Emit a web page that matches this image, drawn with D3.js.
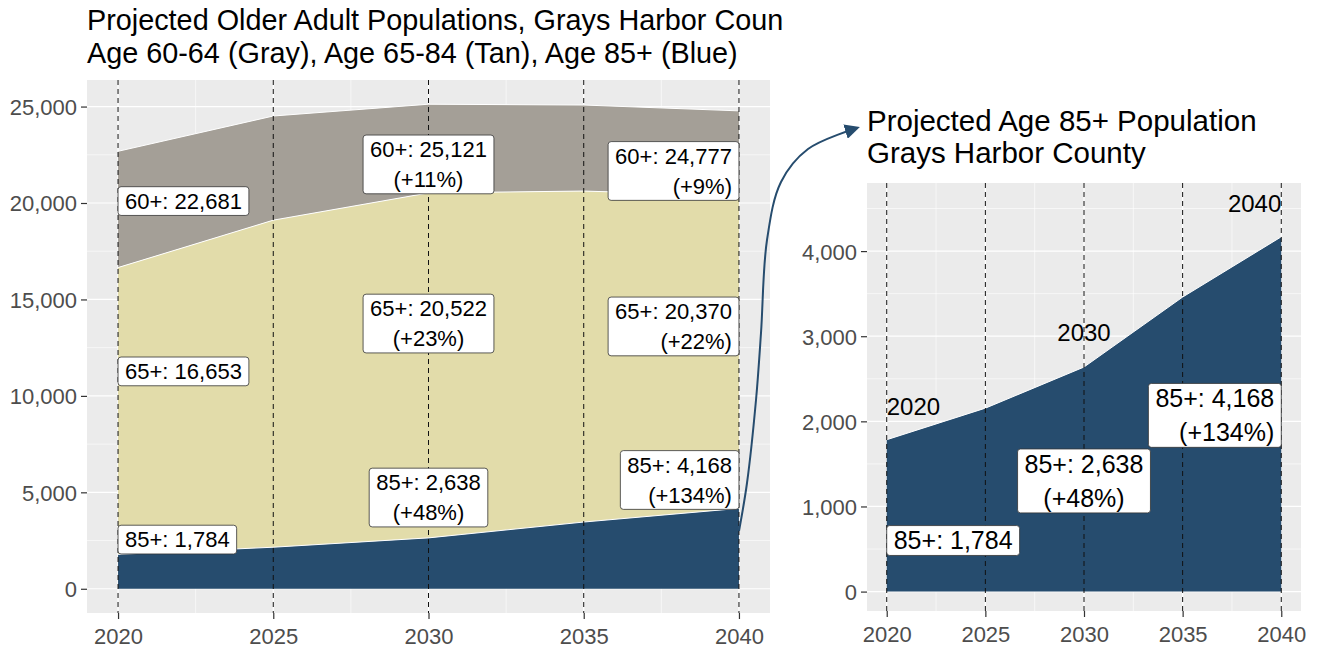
<!DOCTYPE html>
<html>
<head>
<meta charset="utf-8">
<script src="https://cdn.jsdelivr.net/npm/d3@7"></script>
<style>
  body { margin: 0; background: #fff; }
  svg { display: block; font-family: "Liberation Sans", Arial, sans-serif; }
</style>
</head>
<body>
<div id="chart"></div>
<script>
// values
var years = [2020, 2025, 2030, 2035, 2040];
var pop60plus = [22681, 24510, 25121, 25080, 24777];
var pop65plus = [16653, 19110, 20522, 20620, 20370];
var pop85plus = [1784, 2155, 2638, 3460, 4168];

var leftYTicks = [0, 5000, 10000, 15000, 20000, 25000];
var rightYTicks = [0, 1000, 2000, 3000, 4000];

// label text and where the labels sit (year, value, horizontal justification)
var leftLabels = [
  { year: 2020, y: 20100, hjust: 0,   lines: ["60+: 22,681"] },
  { year: 2030, y: 22000, hjust: 0.5, lines: ["60+: 25,121", "(+11%)"] },
  { year: 2040, y: 21660, hjust: 1,   lines: ["60+: 24,777", "(+9%)"] },
  { year: 2020, y: 11270, hjust: 0,   lines: ["65+: 16,653"] },
  { year: 2030, y: 13750, hjust: 0.5, lines: ["65+: 20,522", "(+23%)"] },
  { year: 2040, y: 13600, hjust: 1,   lines: ["65+: 20,370", "(+22%)"] },
  { year: 2020, y: 2550,  hjust: 0,   lines: ["85+: 1,784"] },
  { year: 2030, y: 4730,  hjust: 0.5, lines: ["85+: 2,638", "(+48%)"] },
  { year: 2040, y: 5640,  hjust: 1,   lines: ["85+: 4,168", "(+134%)"] }
];
var rightLabels = [
  { year: 2020, y: 600,  hjust: 0,   lines: ["85+: 1,784"] },
  { year: 2030, y: 1300, hjust: 0.5, lines: ["85+: 2,638", "(+48%)"] },
  { year: 2040, y: 2070, hjust: 1,   lines: ["85+: 4,168", "(+134%)"] }
];
var rightYearText = [
  { year: 2020, y: 2180, hjust: 0 },
  { year: 2030, y: 3050, hjust: 0.5 },
  { year: 2040, y: 4560, hjust: 1 }
];

// path of the annotation arrow (screen points, it is not data)
var arrowPts = [[739, 531], [747, 483], [756, 400], [761, 333], [767, 240], [781, 182], [808, 149], [857, 128]];

var W = 1317, H = 649;
var svg = d3.select("#chart").append("svg").attr("width", W).attr("height", H);

var blue = "#264c6e", tan = "#e2dcaa", gray = "#a49f97";

function anchorOf(h) { return h === 0 ? "start" : (h === 1 ? "end" : "middle"); }

function drawLabel(g, x, y, lines, hjust, fs, lineH, padX, padY) {
  var capH = fs * 0.716;
  var boxH = capH + (lines.length - 1) * lineH + 2 * padY;
  var grp = g.append("g");
  var rect = grp.append("rect");
  var texts = [];
  lines.forEach(function(l) {
    texts.push(grp.append("text").attr("font-size", fs).attr("fill", "#000").text(l));
  });
  var tw = d3.max(texts, function(t) { return t.node().getComputedTextLength(); });
  var boxW = tw + 2 * padX;
  var left = x - hjust * boxW;
  var top = y - boxH / 2;
  rect.attr("x", left).attr("y", top).attr("width", boxW).attr("height", boxH)
      .attr("rx", 3).attr("fill", "#fff").attr("stroke", "#333").attr("stroke-width", 0.8);
  var tx = left + padX + hjust * tw;
  texts.forEach(function(t, i) {
    t.attr("x", tx).attr("y", top + padY + capH + i * lineH).attr("text-anchor", anchorOf(hjust));
  });
}

function drawPanel(opt) {
  var x = d3.scaleLinear().domain([2019, 2041]).range([opt.left, opt.right]);
  var y = d3.scaleLinear().domain(opt.yDomain).range([opt.bottom, opt.top]);
  var g = svg.append("g");

  g.append("rect").attr("x", opt.left).attr("y", opt.top)
    .attr("width", opt.right - opt.left).attr("height", opt.bottom - opt.top).attr("fill", "#ebebeb");

  // minor grid
  var step = opt.yTicks[1] - opt.yTicks[0];
  var minorY = d3.range(opt.yTicks[0] + step / 2, opt.yDomain[1], step);
  g.selectAll(null).data(minorY).join("line")
    .attr("x1", opt.left).attr("x2", opt.right).attr("y1", d => y(d)).attr("y2", d => y(d))
    .attr("stroke", "#fff").attr("stroke-width", 0.6);
  var minorX = years.slice(0, -1).map(d => d + 2.5);
  g.selectAll(null).data(minorX).join("line")
    .attr("y1", opt.top).attr("y2", opt.bottom).attr("x1", d => x(d)).attr("x2", d => x(d))
    .attr("stroke", "#fff").attr("stroke-width", 0.6);
  // major grid
  g.selectAll(null).data(opt.yTicks).join("line")
    .attr("x1", opt.left).attr("x2", opt.right).attr("y1", d => y(d)).attr("y2", d => y(d))
    .attr("stroke", "#fff").attr("stroke-width", 1.2);
  g.selectAll(null).data(years).join("line")
    .attr("y1", opt.top).attr("y2", opt.bottom).attr("x1", d => x(d)).attr("x2", d => x(d))
    .attr("stroke", "#fff").attr("stroke-width", 1.2);

  // stacked areas
  opt.layers.forEach(function(layer) {
    var area = d3.area().x((d, i) => x(years[i]))
      .y0((d, i) => y(layer.lower ? layer.lower[i] : 0)).y1(d => y(d));
    g.append("path").datum(layer.values).attr("d", area).attr("fill", layer.color);
    g.append("path").datum(layer.values)
      .attr("d", d3.line().x((d, i) => x(years[i])).y(d => y(d)))
      .attr("fill", "none").attr("stroke", "#fff").attr("stroke-width", 1);
  });

  // dashed year markers
  g.selectAll(null).data(years).join("line")
    .attr("x1", d => x(d)).attr("x2", d => x(d)).attr("y1", opt.top).attr("y2", opt.bottom)
    .attr("stroke", "#111").attr("stroke-width", 1).attr("stroke-dasharray", "5,4");

  // axes
  var yAxis = d3.axisLeft(y).tickValues(opt.yTicks).tickSize(6).tickPadding(4).tickFormat(d3.format(","));
  var ya = g.append("g").attr("transform", "translate(" + opt.left + ",0)").call(yAxis);
  var xAxis = d3.axisBottom(x).tickValues(years).tickSize(6).tickPadding(4).tickFormat(d3.format("d"));
  var xa = g.append("g").attr("transform", "translate(0," + opt.bottom + ")").call(xAxis);
  [ya, xa].forEach(function(a) {
    a.select(".domain").remove();
    a.selectAll(".tick line").attr("stroke", "#333").attr("stroke-width", 1.2);
    a.selectAll(".tick text").attr("fill", "#4d4d4d").attr("font-size", 22)
      .attr("font-family", "Liberation Sans, Arial, sans-serif");
  });
  ya.selectAll(".tick text").attr("dy", "0.36em");
  xa.selectAll(".tick text").attr("dy", "0.95em");

  // title
  opt.title.forEach(function(t, i) {
    g.append("text").attr("x", opt.left).attr("y", opt.titleY + i * opt.titleLH)
      .attr("font-size", opt.titleSize).attr("fill", "#000").text(t);
  });

  return { x: x, y: y, g: g };
}

var L = drawPanel({
  left: 87, right: 770, top: 80, bottom: 613,
  yDomain: [-1256, 26377], yTicks: leftYTicks,
  layers: [
    { values: pop60plus, lower: pop65plus, color: gray },
    { values: pop65plus, lower: pop85plus, color: tan },
    { values: pop85plus, lower: null, color: blue }
  ],
  title: ["Projected Older Adult Populations, Grays Harbor Coun", "Age 60-64 (Gray), Age 65-84 (Tan), Age 85+ (Blue)"],
  titleY: 30, titleLH: 33, titleSize: 28.8
});

var R = drawPanel({
  left: 867, right: 1301, top: 183, bottom: 611,
  yDomain: [-228, 4800], yTicks: rightYTicks,
  layers: [ { values: pop85plus, lower: null, color: blue } ],
  title: ["Projected Age 85+ Population", "Grays Harbor County"],
  titleY: 131, titleLH: 32, titleSize: 29.5
});

leftLabels.forEach(function(d) {
  drawLabel(L.g, L.x(d.year), L.y(d.y), d.lines, d.hjust, 22, 30, 7, 6.5);
});
rightLabels.forEach(function(d) {
  drawLabel(R.g, R.x(d.year), R.y(d.y), d.lines, d.hjust, 25, 34, 7, 6);
});
rightYearText.forEach(function(d) {
  R.g.append("text").attr("x", R.x(d.year)).attr("y", R.y(d.y)).attr("dy", "0.36em")
    .attr("text-anchor", anchorOf(d.hjust)).attr("font-size", 24).attr("fill", "#000")
    .text(d.year);
});

// curved arrow from the left 85+ area to the right panel title
svg.append("defs").append("marker").attr("id", "arr")
  .attr("viewBox", "0 0 10 10").attr("refX", 8).attr("refY", 5)
  .attr("markerWidth", 15).attr("markerHeight", 15).attr("markerUnits", "userSpaceOnUse")
  .attr("orient", "auto")
  .append("path").attr("d", "M0,0 L10,5 L0,10 Z").attr("fill", blue);
svg.append("path").datum(arrowPts)
  .attr("d", d3.line().curve(d3.curveCatmullRom.alpha(0.5)))
  .attr("fill", "none").attr("stroke", blue).attr("stroke-width", 2).attr("marker-end", "url(#arr)");
</script>
</body>
</html>
